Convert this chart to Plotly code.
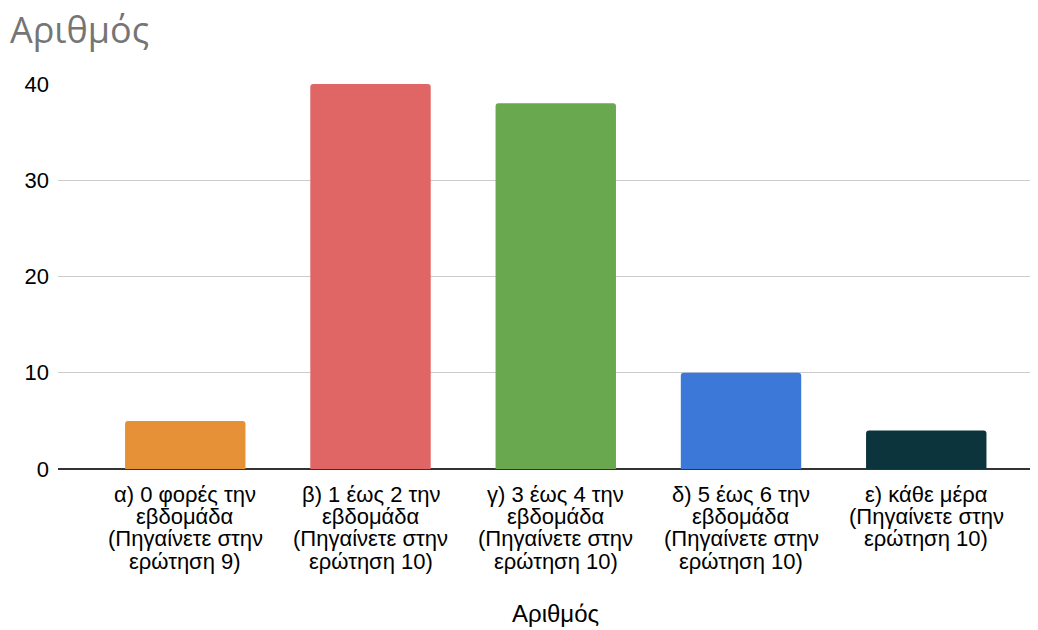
import plotly.graph_objects as go

# Weekly frequency answers and their counts
categories = [
    "α) 0 φορές την<br>εβδομάδα<br>(Πηγαίνετε στην<br>ερώτηση 9)",
    "β) 1 έως 2 την<br>εβδομάδα<br>(Πηγαίνετε στην<br>ερώτηση 10)",
    "γ) 3 έως 4 την<br>εβδομάδα<br>(Πηγαίνετε στην<br>ερώτηση 10)",
    "δ) 5 έως 6 την<br>εβδομάδα<br>(Πηγαίνετε στην<br>ερώτηση 10)",
    "ε) κάθε μέρα<br>(Πηγαίνετε στην<br>ερώτηση 10)",
]
counts = [5, 40, 38, 10, 4]
bar_colors = ["#E69138", "#E06666", "#6AA84F", "#3C78D8", "#0C343D"]
y_ticks = [0, 10, 20, 30, 40]
axis_title = "Αριθμός"
chart_title = "Αριθμός"

LABEL_FONT = "Liberation Sans, Arial, sans-serif"
positions = list(range(len(categories)))

fig = go.Figure(
    go.Bar(
        x=positions,
        y=counts,
        marker=dict(color=bar_colors, line=dict(width=0)),
        width=0.65,
        hoverinfo="y",
    )
)

# Category labels: one annotation per line so the line spacing stays compact
annotations = []
for pos, label in zip(positions, categories):
    for k, line in enumerate(label.split("<br>")):
        annotations.append(
            dict(
                x=pos, y=0, xref="x", yref="y",
                text=line, showarrow=False,
                xanchor="center", yanchor="middle",
                yshift=-(25 + k * 22.4),
                font=dict(family=LABEL_FONT, size=22, color="#000000"),
            )
        )

# Horizontal axis title, centred under the middle category
annotations.append(
    dict(
        x=positions[len(positions) // 2], y=0, xref="x", yref="y",
        text=axis_title, showarrow=False,
        xanchor="center", yanchor="middle",
        yshift=-144,
        font=dict(family=LABEL_FONT, size=24, color="#000000"),
    )
)

fig.update_layout(
    width=1038,
    height=630,
    paper_bgcolor="white",
    plot_bgcolor="white",
    margin=dict(l=58, r=8, t=84, b=161),
    barcornerradius=3,
    showlegend=False,
    font=dict(family=LABEL_FONT, size=22, color="#000000"),
    annotations=annotations,
    title=dict(
        text=chart_title,
        x=0.0096,
        xanchor="left",
        xref="container",
        y=0.972,
        yanchor="top",
        yref="container",
        font=dict(family="Open Sans, sans-serif", size=36, color="#757575"),
    ),
)

fig.update_xaxes(
    tickmode="array",
    tickvals=positions,
    showticklabels=False,
    range=[-0.687, 4.56],
    showgrid=False,
    zeroline=False,
    showline=False,
    ticks="",
)

fig.update_yaxes(
    range=[0, 40],
    tickmode="array",
    tickvals=y_ticks,
    showgrid=True,
    gridcolor="#CCCCCC",
    gridwidth=1,
    zeroline=True,
    zerolinecolor="#333333",
    zerolinewidth=2,
    showline=False,
    ticks="",
    tickfont=dict(size=22),
    ticklabelstandoff=8,
)

fig.write_html("out.html")
